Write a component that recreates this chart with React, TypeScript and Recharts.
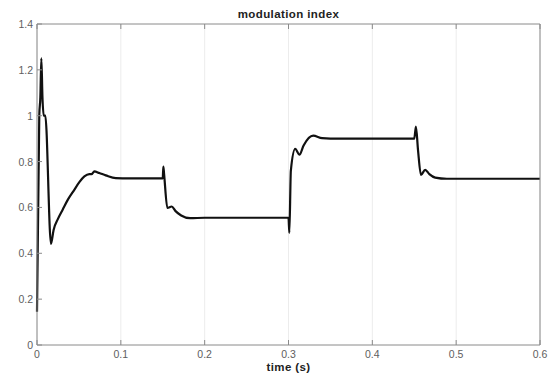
import { CartesianGrid, Line, LineChart, XAxis, YAxis } from "recharts";

// simulated modulation index vs time
const timeS = [
  0, 0.0027, 0.004, 0.0052, 0.0065, 0.008, 0.0099, 0.0167, 0.0198, 0.025,
  0.0306, 0.037, 0.0445, 0.0505, 0.0565, 0.0624, 0.065, 0.0684, 0.0743, 0.082,
  0.094, 0.11, 0.15, 0.1507, 0.1515, 0.1555, 0.1607, 0.165, 0.172, 0.1826,
  0.2, 0.3, 0.301, 0.3028, 0.308, 0.313, 0.318, 0.3294, 0.34, 0.35,
  0.45, 0.452, 0.4545, 0.458, 0.463, 0.468, 0.475, 0.489, 0.5, 0.6,
];
const modIndex = [
  0.145, 1.0, 1.08, 1.25, 1.08, 1.0, 1.0, 0.441, 0.502, 0.55,
  0.59, 0.635, 0.677, 0.71, 0.735, 0.745, 0.745, 0.757, 0.75, 0.74,
  0.728, 0.727, 0.727, 0.778, 0.75, 0.598, 0.604, 0.585, 0.565, 0.553,
  0.555, 0.555, 0.489, 0.76, 0.855, 0.83, 0.87, 0.913, 0.902, 0.9,
  0.9, 0.953, 0.85, 0.742, 0.764, 0.745, 0.73, 0.725, 0.725, 0.725,
];
const xTicks = [0, 0.1, 0.2, 0.3, 0.4, 0.5, 0.6];
const yTicks = [0, 0.2, 0.4, 0.6, 0.8, 1, 1.2, 1.4];

const data = timeS.map((t, i) => ({ t, m: modIndex[i] }));

const font = "'Liberation Sans', Arial, sans-serif";
const axisGrey = "#8a8a8a";
const labelGrey = "#5e5e5e";

function BottomTick({ x, y, payload }: any) {
  return (
    <g>
      <line x1={x} y1={y} x2={x} y2={y - 5} stroke={axisGrey} />
      <text x={x} y={y + 13} textAnchor="middle" fill={labelGrey} fontSize={10.5} fontFamily={font}>
        {payload.value}
      </text>
    </g>
  );
}

function TopTick({ x, y }: any) {
  return <line x1={x} y1={y} x2={x} y2={y + 5} stroke={axisGrey} />;
}

function LeftTick({ x, y, payload }: any) {
  return (
    <g>
      <line x1={x} y1={y} x2={x + 5} y2={y} stroke={axisGrey} />
      <text x={x - 4} y={y + 4} textAnchor="end" fill={labelGrey} fontSize={10.5} fontFamily={font}>
        {payload.value}
      </text>
    </g>
  );
}

function RightTick({ x, y }: any) {
  return <line x1={x} y1={y} x2={x - 5} y2={y} stroke={axisGrey} />;
}

const titleStyle = {
  position: "absolute" as const,
  left: 37,
  width: 503,
  textAlign: "center" as const,
  fontFamily: font,
  fontWeight: "bold" as const,
  fontSize: 11.5,
  lineHeight: "12px",
  letterSpacing: 0.4,
  color: "#222",
};

export default function App() {
  return (
    <div style={{ position: "absolute", left: 0, top: 0, width: 550, height: 373, background: "#fff" }}>
      <div style={{ ...titleStyle, top: 8 }}>modulation index</div>
      <div style={{ ...titleStyle, top: 361 }}>time (s)</div>
      <LineChart width={550} height={373} data={data} margin={{ top: 0, right: 0, bottom: 0, left: 0 }}>
        <CartesianGrid horizontal={false} stroke="#ececec" />
        <XAxis
          dataKey="t"
          type="number"
          domain={[0, 0.6]}
          ticks={xTicks}
          height={28}
          tickSize={0}
          tickMargin={0}
          tickLine={false}
          axisLine={{ stroke: axisGrey }}
          tick={<BottomTick />}
          interval={0}
        />
        <XAxis
          xAxisId="top"
          orientation="top"
          dataKey="t"
          type="number"
          domain={[0, 0.6]}
          ticks={xTicks}
          height={24}
          tickSize={0}
          tickMargin={0}
          tickLine={false}
          axisLine={{ stroke: axisGrey }}
          tick={<TopTick />}
          interval={0}
        />
        <YAxis
          domain={[0, 1.4]}
          ticks={yTicks}
          width={37}
          tickSize={0}
          tickMargin={0}
          tickLine={false}
          axisLine={{ stroke: axisGrey }}
          tick={<LeftTick />}
          interval={0}
        />
        <YAxis
          yAxisId="right"
          orientation="right"
          domain={[0, 1.4]}
          ticks={yTicks}
          width={10}
          tickSize={0}
          tickMargin={0}
          tickLine={false}
          axisLine={{ stroke: axisGrey }}
          tick={<RightTick />}
          interval={0}
        />
        <Line
          type="monotone"
          dataKey="m"
          stroke="#111"
          strokeWidth={2.2}
          dot={false}
          isAnimationActive={false}
        />
      </LineChart>
    </div>
  );
}
